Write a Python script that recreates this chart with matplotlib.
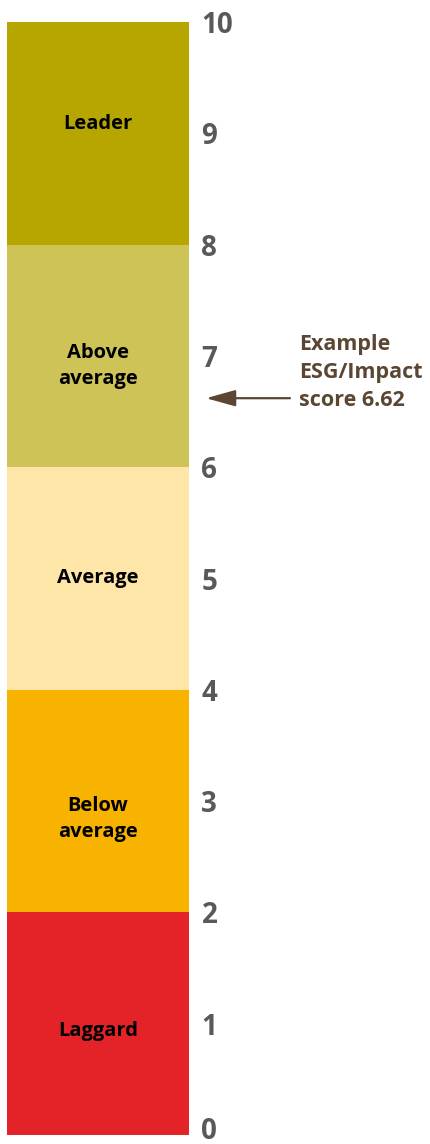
import matplotlib.pyplot as plt
import matplotlib.transforms as mtransforms

# Bandes de notation ESG (de bas en haut)
categories = ["Laggard", "Below\naverage", "Average", "Above\naverage", "Leader"]
bornes_bas = [0, 2, 4, 6, 8]
largeurs = [2, 2, 2, 2, 2]
pos_labels = [0.93, 2.84, 5.0, 6.91, 9.08]
couleurs = ["#e42328", "#f8b300", "#fde6a7", "#cec356", "#b8a600"]
ticks = [0, 1, 2, 3, 4, 5, 6, 7, 8, 9, 10]
score_exemple = 6.62

plt.rcParams['font.family'] = ['Open Sans', 'DejaVu Sans']

W, H = 430, 1144
fig = plt.figure(figsize=(W / 100, H / 100), dpi=100)
ax = fig.add_axes([7 / W, (H - 1135) / H, (189 - 7) / W, (1135 - 22) / H])

ax.bar([0] * len(categories), largeurs, bottom=bornes_bas, width=1,
       color=couleurs, align="center")
for cat, y in zip(categories, pos_labels):
    ax.text(0, y, cat, ha="center", va="center", fontsize=14.5,
            fontweight="bold", color="black", linespacing=1.35)

ax.set_xlim(-0.5, 0.5)
ax.set_ylim(0, 10)
ax.set_yticks(ticks)
ax.yaxis.tick_right()
ax.tick_params(axis="y", length=0, pad=9, labelsize=20, labelcolor="#595959")
for lab in ax.get_yticklabels():
    lab.set_fontweight("bold")
# le "0" est remonté un peu pour rester dans la figure
decalage = mtransforms.ScaledTranslation(0, 5 / 72, fig.dpi_scale_trans)
lab0 = ax.get_yticklabels()[0]
lab0.set_transform(lab0.get_transform() + decalage)
ax.set_xticks([])
for s in ax.spines.values():
    s.set_visible(False)

# Flèche vers le score d'exemple (positions x en pixels -> coordonnées données)
def px(x):
    return (x - 7) / (189 - 7) - 0.5

ax.annotate("", xy=(px(206), score_exemple), xytext=(px(290), score_exemple),
            arrowprops=dict(arrowstyle="-|>,head_length=0.9,head_width=0.25",
                            color="#5a4632", lw=1.6, mutation_scale=20,
                            shrinkA=0, shrinkB=0),
            annotation_clip=False)
ax.text(px(299), score_exemple + 0.23, f"Example\nESG/Impact\nscore {score_exemple}",
        ha="left", va="center", fontsize=15.5, fontweight="bold",
        color="#5a4632", linespacing=1.45, clip_on=False)

fig.savefig("out.png", dpi=100)
